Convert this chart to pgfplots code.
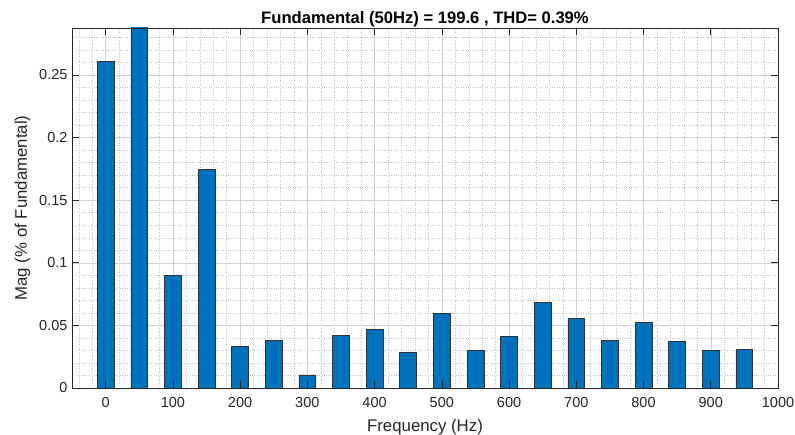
\documentclass[border=0pt]{standalone}
\usepackage{pgfplots}
\pgfplotsset{compat=1.18}
\usepackage{fontspec}
\setmainfont{Liberation Sans}
\definecolor{mblue}{RGB}{0,114,189}
\definecolor{axgray}{RGB}{38,38,38}
\pgfplotsset{
  commonax/.style={
    scale only axis, width=706pt, height=360pt,
    at={(0,0)}, anchor=south west,
    xmin=-50, xmax=1000, ymin=0, ymax=0.2875,
    xtick={0,100,...,1000},
    ytick={0,0.05,0.1,0.15,0.2,0.25},
    minor xtick={-40,-20,...,980},
    minor ytick={0.01,0.02,...,0.28},
    tick align=inside,
    major tick length=7pt,
    minor tick length=0pt,
    tick style={axgray, line width=0.6pt},
    axis line style={axgray, line width=0.6pt},
  }
}
\pgfplotstableread{
f v
0 0.261
50 0.300
100 0.0897
150 0.1747
200 0.0332
250 0.0378
300 0.0104
350 0.0421
400 0.0469
450 0.0283
500 0.0594
550 0.0298
600 0.0410
650 0.0681
700 0.0556
750 0.0383
800 0.0527
850 0.0375
900 0.0298
950 0.0306
}\datatable
\begin{document}
\begin{tikzpicture}
\useasboundingbox (-72pt,-47pt) rectangle (723pt,388pt);
\begin{axis}[commonax,
  grid=both,
  major grid style={color=black!18, line width=0.5pt},
  minor grid style={color=black!24, dotted, line width=0.4pt},
  xticklabels={0,100,200,300,400,500,600,700,800,900,1000},
  yticklabels={0,0.05,0.1,0.15,0.2,0.25},
  ticklabel style={font=\fontsize{14.5}{16}\selectfont, text=axgray},
  xticklabel style={yshift=-6pt},
  yticklabel style={xshift=-1pt},
  xlabel={Frequency (Hz)},
  ylabel={Mag (\% of Fundamental)},
  label style={font=\fontsize{16.8}{18}\selectfont, text=axgray},
  xlabel style={yshift=-5pt},
  ylabel style={yshift=2pt},
  title={\bfseries Fundamental (50Hz) = 199.6 , THD= 0.39\%},
  title style={font=\fontsize{16.6}{18}\selectfont, yshift=-8pt},
  clip=true,
]
\addplot[ybar, bar width=25, fill=mblue, draw=black!80, line width=0.6pt] table[x=f, y=v] {\datatable};
\end{axis}
\begin{axis}[commonax, axis on top, xticklabels={}, yticklabels={}]
\end{axis}
\end{tikzpicture}
\end{document}
